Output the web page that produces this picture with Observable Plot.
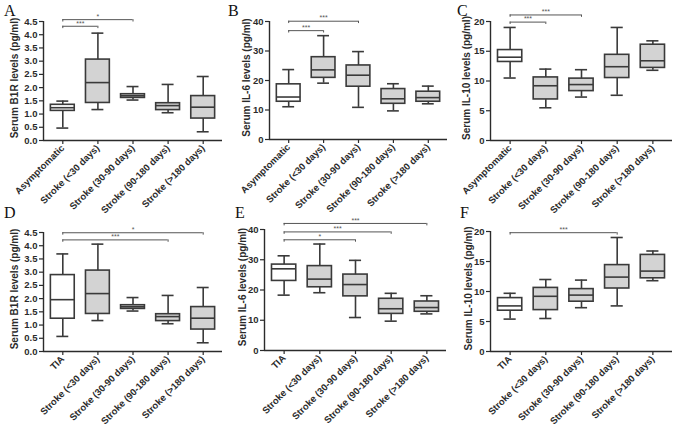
<!DOCTYPE html>
<html>
<head>
<meta charset="utf-8">
<script src="https://cdn.jsdelivr.net/npm/d3@7"></script>
<script src="https://cdn.jsdelivr.net/npm/@observablehq/plot@0.6"></script>
<style>
  body { margin: 0; background: #fff; }
  #wrap { position: relative; width: 677px; height: 428px; overflow: hidden; background: #fff; }
  .panel { position: absolute; }
  .letter { position: absolute; font-family: "Liberation Serif", "DejaVu Serif", serif; font-size: 16px; line-height: 16px; color: #111; }
</style>
</head>
<body>
<div id="wrap"></div>
<script>
// ---------- data ----------
const catsTop = ["Asymptomatic", "Stroke (<30 days)", "Stroke (30-90 days)", "Stroke (90-180 days)", "Stroke (>180 days)"];
const catsBottom = ["TIA", "Stroke (<30 days)", "Stroke (30-90 days)", "Stroke (90-180 days)", "Stroke (>180 days)"];

// each row: [whisker low, Q1, median, Q3, whisker high]
const statsA = [[0.47, 1.12, 1.24, 1.35, 1.49], [1.17, 1.42, 2.19, 3.06, 4.06], [1.53, 1.61, 1.69, 1.75, 2.04], [1.05, 1.15, 1.32, 1.41, 2.12], [0.33, 0.83, 1.26, 1.68, 2.42]];
const statsB = [[11.1, 12.8, 14.4, 18.7, 23.7], [19.1, 20.9, 23.6, 27.9, 35.2], [10.9, 17.9, 21.8, 25.1, 29.8], [9.7, 12.1, 13.8, 17.1, 18.9], [12.1, 12.8, 14.2, 16.2, 18.1]];
const statsC = [[10.5, 13.2, 14.0, 15.2, 19.0], [5.5, 6.9, 9.2, 10.6, 12.0], [7.3, 8.3, 9.4, 10.4, 11.9], [7.6, 10.5, 12.4, 14.4, 19.0], [11.8, 12.2, 13.4, 16.1, 16.75]];
const statsD = [[0.57, 1.24, 1.96, 2.89, 3.69], [1.17, 1.42, 2.19, 3.06, 4.06], [1.53, 1.61, 1.69, 1.75, 2.04], [1.05, 1.15, 1.32, 1.41, 2.12], [0.33, 0.83, 1.26, 1.68, 2.42]];
const statsE = [[18.3, 23.0, 27.0, 28.4, 31.3], [19.1, 20.9, 23.6, 27.9, 35.2], [10.9, 17.9, 21.8, 25.1, 29.8], [9.7, 12.1, 13.8, 17.1, 18.9], [12.1, 12.8, 14.2, 16.2, 18.1]];
const statsF = [[5.4, 6.8, 7.6, 8.9, 9.7], [5.5, 6.9, 9.2, 10.6, 12.0], [7.3, 8.3, 9.4, 10.4, 11.9], [7.6, 10.5, 12.4, 14.4, 19.0], [11.8, 12.2, 13.4, 16.1, 16.75]];

// significance brackets: [from group, to group, level, label]
const sigA = [[0, 1, 4.32, "***"], [0, 2, 4.57, "*"]];
const sigB = [[0, 1, 36.9, "***"], [0, 2, 40.1, "***"]];
const sigC = [[0, 1, 19.9, "***"], [0, 2, 21.1, "***"]];
const sigD = [[0, 3, 4.22, "***"], [0, 4, 4.49, "*"]];
const sigE = [[0, 2, 36.6, "*"], [0, 3, 39.2, "***"], [0, 4, 42.0, "***"]];
const sigF = [[0, 3, 19.8, "***"]];

const ticksB1R = [0, 0.5, 1, 1.5, 2, 2.5, 3, 3.5, 4, 4.5];
const ticksIL6 = [0, 10, 20, 30, 40];
const ticksIL10 = [0, 5, 10, 15, 20];

const labelB1R = "Serum B1R levels (pg/ml)";
const labelIL6 = "Serum IL-6 levels (pg/ml)";
const labelIL10 = "Serum IL-10 levels (pg/ml)";

const letters = ["A", "B", "C", "D", "E", "F"];

// ---------- layout ----------
const panels = [
  {letter: 0, stats: statsA, sig: sigA, cats: catsTop, ticks: ticksB1R, fmt: d => d.toFixed(1), label: labelB1R,
   left: 0, top: 0, width: 226, height: 210, mL: 43, mR: 4, mT: 21, mB: 70, ldx: -29, lx: 4, ly: 3},
  {letter: 1, stats: statsB, sig: sigB, cats: catsTop, ticks: ticksIL6, fmt: d => String(d), label: labelIL6,
   left: 225, top: 0, width: 226, height: 210, mL: 44, mR: 4, mT: 21, mB: 71, ldx: -23, lx: 228, ly: 3},
  {letter: 2, stats: statsC, sig: sigC, cats: catsTop, ticks: ticksIL10, fmt: d => String(d), label: labelIL10,
   left: 450, top: 0, width: 227, height: 210, mL: 40, mR: 5, mT: 21, mB: 70, ldx: -24, lx: 457, ly: 3},
  {letter: 3, stats: statsD, sig: sigD, cats: catsBottom, ticks: ticksB1R, fmt: d => d.toFixed(1), label: labelB1R,
   left: 0, top: 210, width: 226, height: 218, mL: 43, mR: 4, mT: 22, mB: 77, ldx: -29, lx: 4, ly: 205},
  {letter: 4, stats: statsE, sig: sigE, cats: catsBottom, ticks: ticksIL6, fmt: d => String(d), label: labelIL6,
   left: 225, top: 210, width: 226, height: 218, mL: 39, mR: 5, mT: 19, mB: 78, ldx: -22, lx: 235, ly: 205},
  {letter: 5, stats: statsF, sig: sigF, cats: catsBottom, ticks: ticksIL10, fmt: d => String(d), label: labelIL10,
   left: 450, top: 210, width: 227, height: 218, mL: 40, mR: 5, mT: 21, mB: 77, ldx: -22, lx: 460, ly: 205}
];

const wrap = document.getElementById("wrap");
const xDomain = [-0.55, 4.55];
const boxHalf = 0.34, capHalf = 0.17;
const ink = "#2b2b2b";
const boxStroke = "#3a3a3a";
const boxFill = "#d3d3d3";
const sigInk = "#555";

for (const p of panels) {
  const rows = p.stats.map((s, i) => ({i, lo: s[0], q1: s[1], med: s[2], q3: s[3], hi: s[4], fill: i === 0 ? "#ffffff" : boxFill}));
  const br = p.sig.map(s => ({from: s[0], to: s[1], level: s[2], label: s[3]}));
  const yMax = p.ticks[p.ticks.length - 1];
  const tk = yMax * 0.02;

  const chart = Plot.plot({
    width: p.width,
    height: p.height,
    marginLeft: p.mL,
    marginRight: p.mR,
    marginTop: p.mT,
    marginBottom: p.mB,
    x: {domain: xDomain, axis: null},
    y: {domain: [0, yMax], axis: null},
    color: {type: "identity"},
    style: {fontFamily: "'Liberation Sans', Arial, sans-serif", fontWeight: "bold", fontSize: "9.5px", color: ink, background: "transparent", overflow: "visible"},
    marks: [
      // axes
      Plot.axisY(p.ticks, {tickSize: 4, tickPadding: 2, tickFormat: p.fmt, strokeWidth: 1.2}),
      Plot.axisX([0, 1, 2, 3, 4], {tickSize: 4, tickPadding: 2, tickRotate: -45, tickFormat: i => p.cats[i], strokeWidth: 1.2}),
      Plot.ruleX([xDomain[0]], {stroke: ink, strokeWidth: 1.4}),
      Plot.ruleY([0], {stroke: ink, strokeWidth: 1.4}),
      // y label
      Plot.text([p.label], {text: d => d, frameAnchor: "left", textAnchor: "middle", rotate: -90, dx: p.ldx, dy: -3, fontSize: 10, fill: ink}),
      // whiskers
      Plot.ruleX(rows, {x: "i", y1: "lo", y2: "hi", stroke: boxStroke, strokeWidth: 1.6}),
      Plot.ruleY(rows, {x1: d => d.i - capHalf, x2: d => d.i + capHalf, y: "lo", stroke: boxStroke, strokeWidth: 1.6}),
      Plot.ruleY(rows, {x1: d => d.i - capHalf, x2: d => d.i + capHalf, y: "hi", stroke: boxStroke, strokeWidth: 1.6}),
      // boxes
      Plot.rect(rows, {x1: d => d.i - boxHalf, x2: d => d.i + boxHalf, y1: "q1", y2: "q3", fill: "fill", stroke: boxStroke, strokeWidth: 1.6}),
      Plot.ruleY(rows, {x1: d => d.i - boxHalf, x2: d => d.i + boxHalf, y: "med", stroke: boxStroke, strokeWidth: 1.6}),
      // significance brackets
      Plot.ruleY(br, {x1: "from", x2: "to", y: "level", stroke: sigInk, strokeWidth: 1}),
      Plot.ruleX(br, {x: "from", y1: "level", y2: d => d.level - tk, stroke: sigInk, strokeWidth: 1}),
      Plot.ruleX(br, {x: "to", y1: "level", y2: d => d.level - tk, stroke: sigInk, strokeWidth: 1}),
      Plot.text(br, {x: d => (d.from + d.to) / 2, y: "level", text: "label", dy: -3, fontSize: 7, fontWeight: "normal", fill: sigInk})
    ]
  });
  const holder = document.createElement("div");
  holder.className = "panel";
  holder.style.left = p.left + "px";
  holder.style.top = p.top + "px";
  holder.appendChild(chart);
  wrap.appendChild(holder);

  const lt = document.createElement("div");
  lt.className = "letter";
  lt.style.left = p.lx + "px";
  lt.style.top = p.ly + "px";
  lt.textContent = letters[p.letter];
  wrap.appendChild(lt);
}
</script>
</body>
</html>
